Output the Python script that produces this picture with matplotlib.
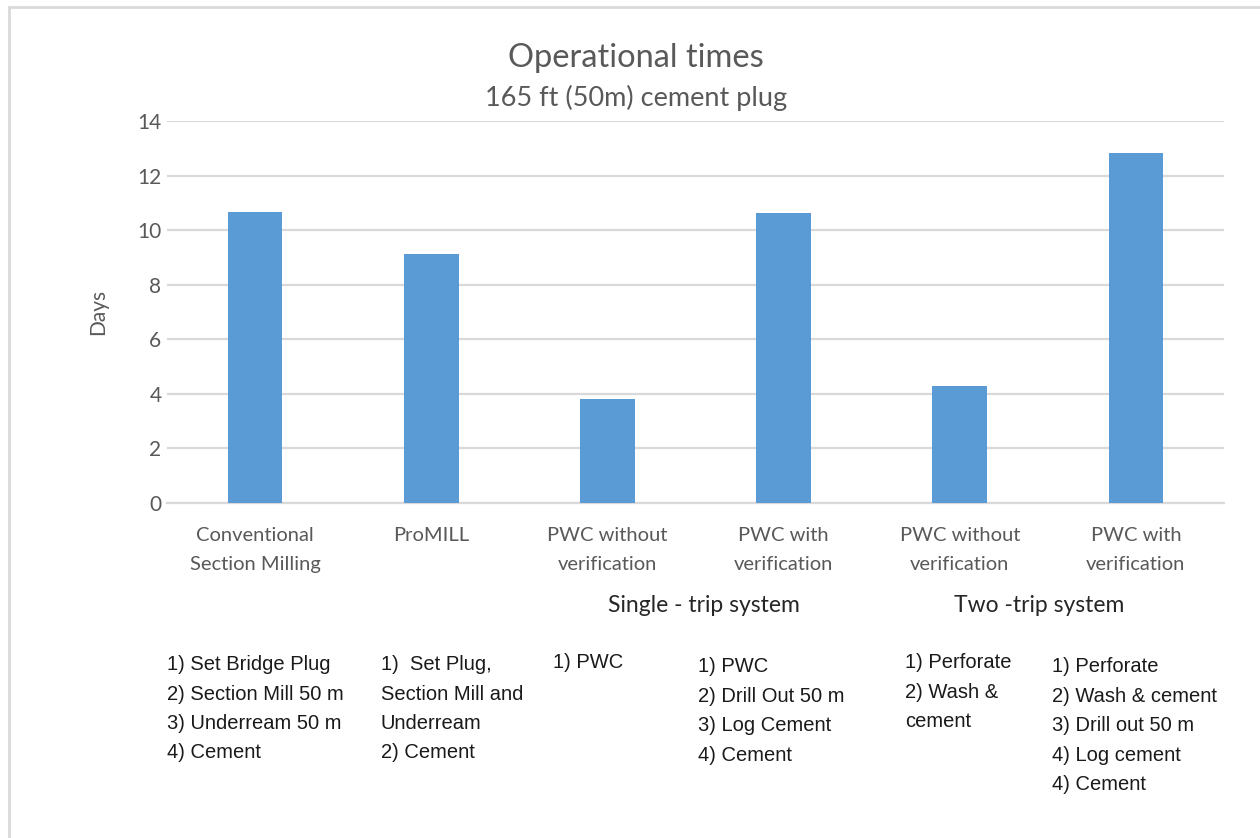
import matplotlib
matplotlib.use('Agg')
import matplotlib.pyplot as plt
from matplotlib.patches import Rectangle

categories = ['Conventional\nSection Milling', 'ProMILL', 'PWC without\nverification',
              'PWC with\nverification', 'PWC without\nverification', 'PWC with\nverification']
days = [10.65, 9.12, 3.80, 10.62, 4.28, 12.82]
yticks = [0, 2, 4, 6, 8, 10, 12, 14]

groups = ['Single - trip system', 'Two -trip system']
group_pos = [2.55, 4.45]

steps = [
    '1) Set Bridge Plug\n2) Section Mill 50 m\n3) Underream 50 m\n4) Cement',
    '1)  Set Plug,\nSection Mill and\nUnderream\n2) Cement',
    '1) PWC',
    '1) PWC\n2) Drill Out 50 m\n3) Log Cement\n4) Cement',
    '1) Perforate\n2) Wash &\ncement',
    '1) Perforate\n2) Wash & cement\n3) Drill out 50 m\n4) Log cement\n4) Cement',
]
step_x = [167, 381, 553, 698, 905, 1052]
step_y = [655, 655, 653, 657, 653, 657]

W, H = 1260, 838
txt = '#595959'
font = ['Lato', 'DejaVu Sans']
narrow = ['Liberation Sans', 'DejaVu Sans']

fig = plt.figure(figsize=(W / 100, H / 100), dpi=100)
fig.patches.append(Rectangle((9 / W, -0.01), 1.05, 1 - 7 / H + 0.01, transform=fig.transFigure,
                             fill=False, edgecolor='#d9d9d9', linewidth=2))

ax = fig.add_axes([167 / W, 1 - 503 / H, (1224 - 167) / W, (503 - 121) / H])
x = list(range(len(categories)))
ax.bar(x, days, width=0.31, color='#5b9bd5', zorder=3)
ax.set_xlim(-0.5, len(categories) - 0.5)
ax.set_ylim(0, 14)
ax.set_yticks(yticks)
ax.set_yticklabels([str(t) for t in yticks], family=font, fontsize=15, color=txt)
ax.set_xticks(x)
ax.set_xticklabels(categories, family=font, fontsize=14.5, color=txt, linespacing=1.85)
ax.tick_params(axis='y', length=0, pad=4)
ax.tick_params(axis='x', length=0, pad=17)
ax.grid(axis='y', color='#d9d9d9', linewidth=1.6, zorder=0)
for s in ['top', 'right', 'left']:
    ax.spines[s].set_visible(False)
ax.spines['bottom'].set_color('#d9d9d9')
ax.spines['bottom'].set_linewidth(1.6)
ax.set_ylabel('Days', family=font, fontsize=15, color=txt, labelpad=21)

for g, gx in zip(groups, group_pos):
    ax.text(gx, -3.75, g, ha='center', va='center', family=font, fontsize=16.5, color='#262626')

fig.text(636 / W, 1 - 58 / H, 'Operational times', ha='center', va='center',
         family=font, fontsize=23.5, color=txt)
fig.text(636 / W, 1 - 98 / H, '165 ft (50m) cement plug', ha='center', va='center',
         family=font, fontsize=19.5, color=txt)

for s, sx, sy in zip(steps, step_x, step_y):
    fig.text(sx / W, 1 - sy / H, s, ha='left', va='top', family=narrow, fontsize=14.5,
             color='#1a1a1a', linespacing=1.7)

fig.savefig('out.png', dpi=100)
